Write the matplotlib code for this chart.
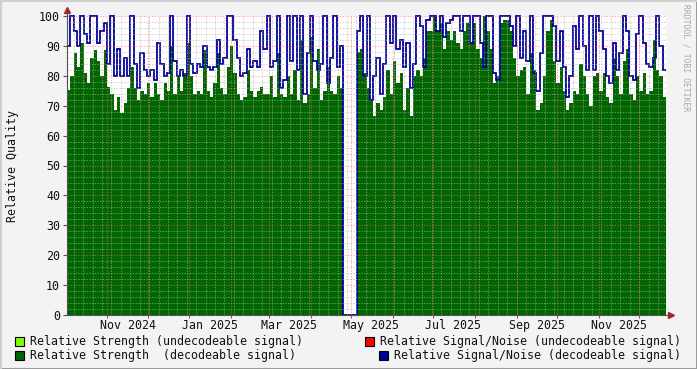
import datetime as dt
import numpy as np
import matplotlib
matplotlib.use("Agg")
import matplotlib.pyplot as plt
import matplotlib.dates as mdates
from matplotlib.patches import Rectangle

# time span covered by the samples (roughly one sample every ~2.5 days)
start_date = dt.datetime(2024, 10, 2)
end_date   = dt.datetime(2025, 12, 21)

# Relative Strength (decodeable signal) - green area
strength = [
    75.3, 80, 87.5, 83, 91, 81, 77.5, 86, 88.6, 85,
    80, 88.6, 76.4, 74, 68.7, 73, 67.5, 71, 76, 83,
    76, 72, 75, 74, 77.5, 73, 77.5, 74, 72, 77.5,
    75, 90, 74, 80, 75, 81, 91, 80, 74, 75,
    74, 88.6, 75, 73, 77.5, 87.5, 76, 74, 83, 90,
    81, 74, 72, 73, 82, 75, 73, 75,
    76.4, 74, 74, 80, 73, 87.5, 74, 73, 80, 74,
    82, 72, 92, 71, 74, 93, 76, 89, 72, 75,
    83, 75, 74, 80, 76,
    0, 0, 0, 0,  # outage
    88, 89, 81, 76, 72, 66.5, 71, 68.7, 73, 82,
    74, 85, 77.5, 81, 68.7, 76, 66.5, 80, 82, 80,
    86, 95, 95, 100, 95, 97.5, 89, 95, 92, 95,
    91, 89, 95, 97.5, 91, 97.5, 89, 86, 100, 95,
    89, 77.5, 80, 97.5, 98.7, 98.7, 95, 86, 80, 82,
    83, 74, 87.5, 82, 68.7, 71, 80, 95, 98.7, 85,
    77.5, 83, 75, 68.7, 71, 75, 74, 84, 80, 74,
    70, 80, 81, 75, 81, 73, 71, 86, 80, 74,
    85, 89, 74, 72, 80, 75, 81, 74, 75, 92,
    82, 80, 73,
]

# Relative Signal/Noise (decodeable signal) - blue line
snr = [
    90, 100, 95, 90, 100, 94, 91, 100, 100, 91,
    95, 97.5, 84, 100, 80, 89, 80, 86, 80, 100,
    84, 76, 87.5, 82, 80, 82, 78.5, 91, 84, 80,
    81, 100, 85, 80, 82, 80, 100, 84, 81, 84,
    83, 90, 83, 82, 83, 92, 84, 86, 100, 100,
    92, 86, 80, 81, 89, 83, 85, 83,
    95, 89, 100, 83, 85, 100, 76, 78.5, 100, 85,
    100, 82, 100, 74, 87.5, 100, 85, 82, 84, 100,
    77.5, 86, 100, 83, 90,
    0, 0, 0, 0,  # outage
    95, 100, 80, 100, 72, 80, 86, 74, 84, 100,
    91, 100, 89, 92, 83, 91, 76, 84, 100, 96.5,
    83, 98.7, 100, 100, 95, 100, 93, 97.5, 98.7, 100,
    100, 95, 100, 100, 91, 100, 100, 91, 83, 100,
    100, 81, 78.5, 100, 100, 100, 96.5, 90, 100, 86,
    95, 85, 100, 81, 75, 87.5, 100, 100, 100, 96.5,
    85, 95, 83, 73, 80, 96.5, 89, 100, 90, 82,
    100, 82, 100, 95, 89, 80, 77.5, 91, 82, 87.5,
    100, 95, 80, 78.5, 94, 100, 91, 84, 83, 86,
    100, 90, 82,
]

label_months = [dt.datetime(2024, 11, 16), dt.datetime(2025, 1, 16),
                dt.datetime(2025, 3, 16), dt.datetime(2025, 5, 16),
                dt.datetime(2025, 7, 16), dt.datetime(2025, 9, 16),
                dt.datetime(2025, 11, 16)]
label_texts = ["Nov 2024", "Jan 2025", "Mar 2025", "May 2025",
               "Jul 2025", "Sep 2025", "Nov 2025"]

legend_items = [
    ("Relative Strength (undecodeable signal)", "#80ff00"),
    ("Relative Signal/Noise (undecodeable signal)", "#ff0000"),
    ("Relative Strength  (decodeable signal)", "#006600"),
    ("Relative Signal/Noise (decodeable signal)", "#000099"),
]

W, H = 697, 369
MONO = "DejaVu Sans Mono"
FS = 8.4

plt.rcParams['font.family'] = MONO

fig = plt.figure(figsize=(W / 100, H / 100), dpi=100, facecolor="#f3f3f3")
ax = fig.add_axes([67 / W, 1 - 315 / H, 599 / W, 299 / H])
ax.set_facecolor("white")

t0 = mdates.date2num(start_date)
t1 = mdates.date2num(end_date)
edges = np.linspace(t0, t1, len(strength) + 1)

ax.stairs(strength, edges, fill=True, color="#006600", zorder=2)
ax.stairs(snr, edges, baseline=None, color="#000099", lw=1.3, zorder=3, clip_on=False)

ax.set_xlim(t0, t1)
ax.set_ylim(0, 100)

# grid drawn on top, like rrdtool does
dots = (0, (1.4, 1.4))
for v in range(0, 101, 2):
    if v % 10:
        ax.axhline(v, color="#b0b0b0", lw=0.7, ls=dots, alpha=0.6, zorder=4)
weeks = mdates.WeekdayLocator(byweekday=mdates.MO).tick_values(start_date, end_date)
for w in weeks:
    ax.axvline(w, color="#b0b0b0", lw=0.7, ls=dots, alpha=0.6, zorder=4)
for v in range(10, 101, 10):
    ax.axhline(v, color="#ff6060", lw=0.7, ls=dots, alpha=0.55, zorder=5)
months = mdates.MonthLocator().tick_values(start_date, end_date)
months = [m for m in months if t0 < m < t1]
for m in months:
    ax.axvline(m, color="#ff6060", lw=0.7, ls=dots, alpha=0.55, zorder=5)

# axes
for s in ["top", "right"]:
    ax.spines[s].set_visible(False)
for s in ["left", "bottom"]:
    ax.spines[s].set_color("#505050")
    ax.spines[s].set_linewidth(0.8)
    ax.spines[s].set_zorder(6)

ax.set_yticks(range(0, 101, 10))
ax.tick_params(axis="y", length=3, width=0.8, color="#505050", pad=2,
               labelsize=FS, labelcolor="#111111")
ax.set_xticks(months)
ax.set_xticklabels([])
ax.tick_params(axis="x", which="major", length=2, width=0.8, color="#c04040")
ax.set_xticks(mdates.date2num(label_months), minor=True)
ax.set_xticklabels(label_texts, minor=True)
ax.tick_params(axis="x", which="minor", length=0, pad=3,
               labelsize=FS, labelcolor="#111111")

ax.set_ylabel("Relative Quality", fontsize=FS, color="#111111")
ax.yaxis.set_label_coords(-48 / 599, 0.5)

# little arrow heads at the axis ends
ax.plot([0, 0], [1, 1.015], color="#505050", lw=0.8, transform=ax.transAxes, clip_on=False)
ax.plot([0], [1.02], marker="^", ms=4, color="#a02828", transform=ax.transAxes, clip_on=False)
ax.plot([1, 1.006], [0, 0], color="#505050", lw=0.8, transform=ax.transAxes, clip_on=False)
ax.plot([1.009], [0], marker=">", ms=4, color="#a02828", transform=ax.transAxes, clip_on=False)

# watermark
fig.text(686 / W, 1 - 4 / H, "RRDTOOL / TOBI OETIKER", rotation=270,
         ha="center", va="top", fontsize=5.8, color="#a8a8a8")

# legend
legend_pos = [(15, 341), (365, 341), (15, 355), (379, 355)]
for (label, col), (x, y) in zip(legend_items, legend_pos):
    fig.patches.append(Rectangle((x / W, 1 - (y + 5) / H), 9 / W, 9 / H,
                                 transform=fig.transFigure, facecolor=col,
                                 edgecolor="black", lw=0.8))
    fig.text((x + 15) / W, 1 - y / H, label, ha="left", va="center",
             fontsize=FS, color="#111111")

# frame shading around the image
fig.add_artist(plt.Line2D([0, 1], [0.5 / H, 0.5 / H], color="#9c9c9c", lw=1.5,
                          transform=fig.transFigure))
fig.add_artist(plt.Line2D([1 - 0.5 / W, 1 - 0.5 / W], [0, 1], color="#9c9c9c", lw=1.5,
                          transform=fig.transFigure))
fig.add_artist(plt.Line2D([0, 1], [1 - 0.5 / H, 1 - 0.5 / H], color="#cfcfcf", lw=1.5,
                          transform=fig.transFigure))
fig.add_artist(plt.Line2D([0.5 / W, 0.5 / W], [0, 1], color="#cfcfcf", lw=1.5,
                          transform=fig.transFigure))

fig.savefig("out.png", dpi=100, facecolor=fig.get_facecolor())
